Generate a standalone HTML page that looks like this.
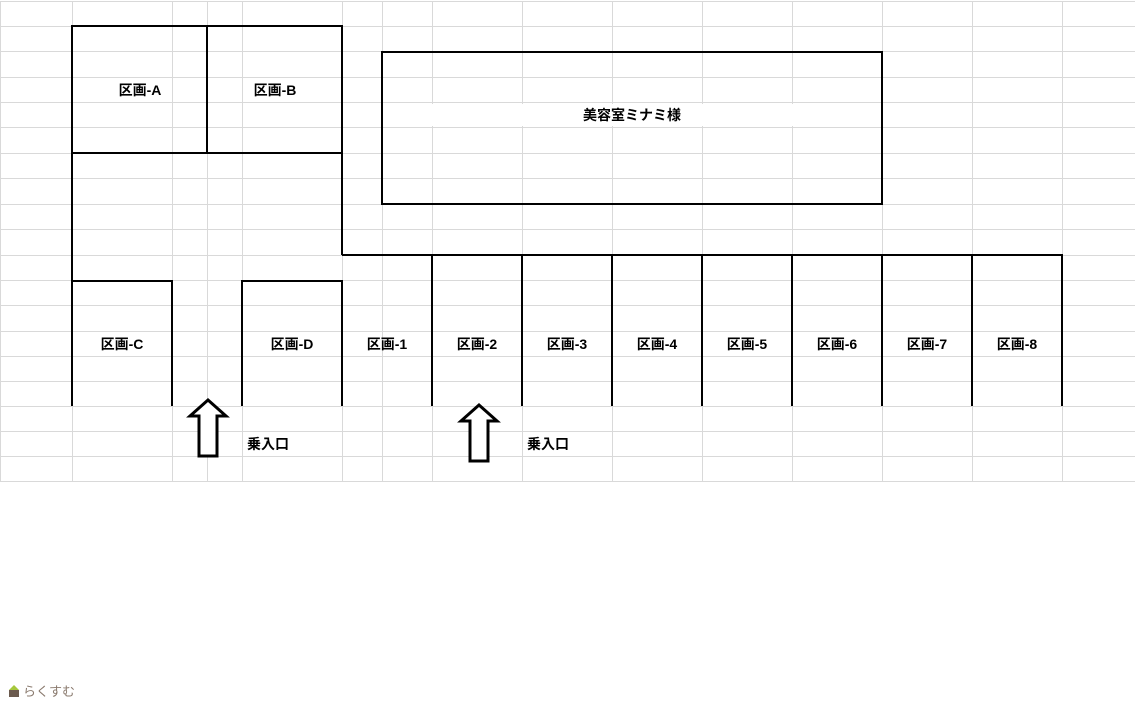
<!DOCTYPE html>
<html><head><meta charset="utf-8"><style>
body{margin:0;background:#fff;width:1135px;height:701px;overflow:hidden}
svg text{font-family:"Liberation Sans","Noto Sans CJK JP",sans-serif;font-size:14px;font-weight:bold;fill:#000}
</style></head><body>
<svg width="1135" height="701" viewBox="0 0 1135 701" xmlns="http://www.w3.org/2000/svg">
<g stroke="#d9d9d9" stroke-width="1">
<path d="M0.5 1V481 M72.5 1V481 M172.5 1V481 M207.5 1V481 M242.5 1V481 M342.5 1V481 M382.5 1V481 M432.5 1V481 M522.5 1V481 M612.5 1V481 M702.5 1V481 M792.5 1V481 M882.5 1V481 M972.5 1V481 M1062.5 1V481"/>
<path d="M0 1.5H1135 M0 26.5H1135 M0 51.5H1135 M0 77.5H1135 M0 102.5H1135 M0 127.5H1135 M0 153.5H1135 M0 178.5H1135 M0 204.5H1135 M0 229.5H1135 M0 255.5H1135 M0 280.5H1135 M0 305.5H1135 M0 331.5H1135 M0 356.5H1135 M0 381.5H1135 M0 406.5H1135 M0 431.5H1135 M0 456.5H1135 M0 481.5H1135"/>
</g>
<g fill="#fff">
<rect x="383" y="104" width="496" height="22"/>
<rect x="115" y="80" width="52" height="20"/><rect x="250" y="80" width="52" height="20"/>
<rect x="96" y="334" width="52" height="20"/><rect x="266" y="334" width="54" height="20"/>
</g>
<g stroke="#000" stroke-width="2" fill="none">
<path d="M72 406V26H342V255 M207 26V153 M72 153H342 M72 281H172V406 M242 406V281H342V406 M342 255H1062V406"/>
<path d="M432 255V406 M522 255V406 M612 255V406 M702 255V406 M792 255V406 M882 255V406 M972 255V406"/>
<rect x="382" y="52" width="500" height="152"/>
<path d="M208 400L226 416H217V456H199V416H190Z" fill="#fff" stroke-width="3"/>
<path d="M479 405L497 421H488V461H470V421H461Z" fill="#fff" stroke-width="3"/>
</g>
<text x="140" y="95" text-anchor="middle">区画-A</text>
<text x="275" y="95" text-anchor="middle">区画-B</text>
<text x="632" y="120" text-anchor="middle">美容室ミナミ様</text>
<text x="122" y="349" text-anchor="middle">区画-C</text>
<text x="292" y="349" text-anchor="middle">区画-D</text>
<text x="387" y="349" text-anchor="middle">区画-1</text>
<text x="477" y="349" text-anchor="middle">区画-2</text>
<text x="567" y="349" text-anchor="middle">区画-3</text>
<text x="657" y="349" text-anchor="middle">区画-4</text>
<text x="747" y="349" text-anchor="middle">区画-5</text>
<text x="837" y="349" text-anchor="middle">区画-6</text>
<text x="927" y="349" text-anchor="middle">区画-7</text>
<text x="1017" y="349" text-anchor="middle">区画-8</text>
<text x="247" y="449">乗入口</text>
<text x="527" y="449">乗入口</text>
<path d="M9 690L14 685L19 690Z" fill="#a6c83c"/>
<rect x="9" y="690" width="10" height="7" fill="#6b5a4e"/>
<text x="23" y="696" style="font-weight:normal;font-size:13px;fill:#8a7a6e">らくすむ</text>
</svg>
</body></html>
